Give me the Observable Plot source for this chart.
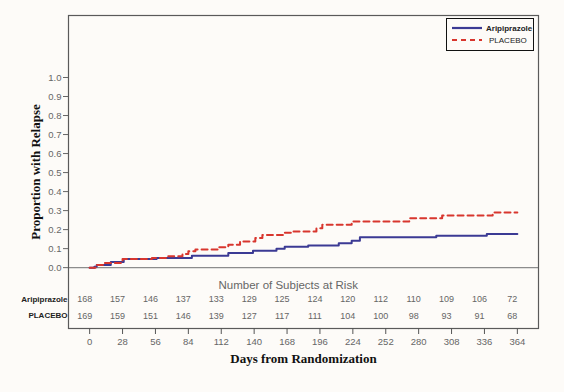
<!DOCTYPE html>
<html>
<head>
<meta charset="utf-8">
<script src="https://cdn.jsdelivr.net/npm/d3@7"></script>
<script src="https://cdn.jsdelivr.net/npm/@observablehq/plot@0.6"></script>
<style>
  html, body { margin: 0; padding: 0; background: #ffffff; }
  #wrap { position: relative; width: 564px; height: 392px; }
  #legend { position: absolute; left: 446px; top: 18px; width: 86px; height: 31px;
    border: 1.5px solid #111; background: #fdfbf8; font-family: "Liberation Sans", Arial, sans-serif; }
  #legend .row { position: absolute; left: 0; height: 12px; display: flex; align-items: center; }
  #legend svg { display: block; }
  #legend span { font-size: 8px; font-weight: bold; color: #222; margin-left: 4px; white-space: nowrap; }
</style>
</head>
<body>
<div id="wrap"></div>
<script>
// ---- data ----
const seriesNames = ["Aripiprazole", "PLACEBO"];
const aripDays  = [0, 4, 6, 18, 29, 57, 87, 118, 139, 159, 166, 186, 212, 223, 230, 295, 338, 364];
const aripProp  = [0, 0.005, 0.014, 0.03, 0.046, 0.051, 0.063, 0.077, 0.089, 0.1, 0.11, 0.116, 0.128, 0.142, 0.16, 0.168, 0.177, 0.177];
const placDays  = [0, 5, 12, 28, 53, 66, 79, 84, 90, 109, 118, 128, 141, 147, 166, 173, 193, 198, 223, 272, 300, 343, 364];
const placProp  = [0, 0.014, 0.025, 0.046, 0.051, 0.06, 0.072, 0.086, 0.095, 0.107, 0.12, 0.138, 0.156, 0.172, 0.183, 0.19, 0.207, 0.226, 0.243, 0.26, 0.274, 0.29, 0.29];
const xTicks    = [0, 28, 56, 84, 112, 140, 168, 196, 224, 252, 280, 308, 336, 364];
const yTicks    = [0, 0.1, 0.2, 0.3, 0.4, 0.5, 0.6, 0.7, 0.8, 0.9, 1.0];
const aripRisk  = [168, 157, 146, 137, 133, 129, 125, 124, 120, 112, 110, 109, 106, 72];
const placRisk  = [169, 159, 151, 146, 139, 127, 117, 111, 104, 100, 98, 93, 91, 68];
const riskTitle = "Number of Subjects at Risk";
const xTitle = "Days from Randomization";
const yTitle = "Proportion with Relapse";

const arip = aripDays.map((d, i) => ({day: d, p: aripProp[i]}));
const plac = placDays.map((d, i) => ({day: d, p: placProp[i]}));
const aripRows = xTicks.map((d, i) => ({day: d, n: aripRisk[i]}));
const placRows = xTicks.map((d, i) => ({day: d, n: placRisk[i]}));

const blue = "#3b3a94", red = "#d8362e";
const sans = "'Liberation Sans', Arial, sans-serif";
const serif = "'Liberation Serif', 'DejaVu Serif', serif";

const chart = Plot.plot({
  width: 564, height: 392,
  marginLeft: 68, marginRight: 26, marginTop: 15, marginBottom: 64,
  x: {domain: [-18, 382]},
  y: {domain: [-0.32, 1.326]},
  style: {background: "#fdfbf8", fontFamily: sans},
  marks: [
    Plot.ruleY([0], {stroke: "#8c8c8c", strokeWidth: 1.3}),
    Plot.frame({stroke: "#5a5a5a", strokeWidth: 1.2}),
    Plot.axisY({ticks: yTicks, tickFormat: d3.format(".1f"), tickSize: 5, tickPadding: 2,
      fontSize: 9.5, fill: "#666", stroke: "#666", label: null}),
    Plot.axisX({ticks: xTicks, tickSize: 6, tickPadding: 4, fontSize: 9.5, fill: "#666",
      stroke: "#555", label: null}),
    Plot.line(arip, {x: "day", y: "p", curve: "step-after", stroke: blue, strokeWidth: 2}),
    Plot.line(plac, {x: "day", y: "p", curve: "step-after", stroke: red, strokeWidth: 2,
      strokeDasharray: "6,4"}),
    Plot.text([riskTitle], {x: 169, y: -0.095, text: d => d, fontSize: 11.5, fill: "#666"}),
    Plot.text(aripRows, {x: "day", y: -0.168, text: "n", dx: -5, fontSize: 9, fill: "#666"}),
    Plot.text(placRows, {x: "day", y: -0.253, text: "n", dx: -5, fontSize: 9, fill: "#666"}),
    Plot.text([seriesNames[0]], {frameAnchor: "left", y: -0.168, text: d => d, textAnchor: "end",
      dx: -1, fontSize: 8, fontWeight: "bold", fill: "#222"}),
    Plot.text([seriesNames[1]], {frameAnchor: "left", y: -0.253, text: d => d, textAnchor: "end",
      dx: -1, fontSize: 8, fontWeight: "bold", fill: "#222"}),
    Plot.text([xTitle], {frameAnchor: "bottom", text: d => d, dy: 34, fontSize: 13,
      fontWeight: "bold", fontFamily: serif, fill: "#111"}),
    Plot.text([yTitle], {frameAnchor: "left", text: d => d, rotate: -90, textAnchor: "middle",
      dx: -33, fontSize: 13, fontWeight: "bold", fontFamily: serif, fill: "#111"})
  ]
});

const wrap = document.getElementById("wrap");
wrap.appendChild(chart);

const legend = document.createElement("div");
legend.id = "legend";
const styles = [{stroke: blue, dash: null}, {stroke: red, dash: "5,4"}];
seriesNames.forEach((name, i) => {
  const row = document.createElement("div");
  row.className = "row";
  row.style.top = (3 + i * 12) + "px";
  row.style.left = "5px";
  const sw = d3.create("svg").attr("width", 30).attr("height", 8);
  sw.append("line").attr("x1", 0).attr("x2", 30).attr("y1", 4).attr("y2", 4)
    .attr("stroke", styles[i].stroke).attr("stroke-width", 2.2)
    .attr("stroke-dasharray", styles[i].dash);
  row.appendChild(sw.node());
  const sp = document.createElement("span");
  sp.textContent = name;
  if (i === 1) sp.style.fontWeight = "normal", sp.style.marginLeft = "7px";
  row.appendChild(sp);
  legend.appendChild(row);
});
wrap.appendChild(legend);
</script>
</body>
</html>
